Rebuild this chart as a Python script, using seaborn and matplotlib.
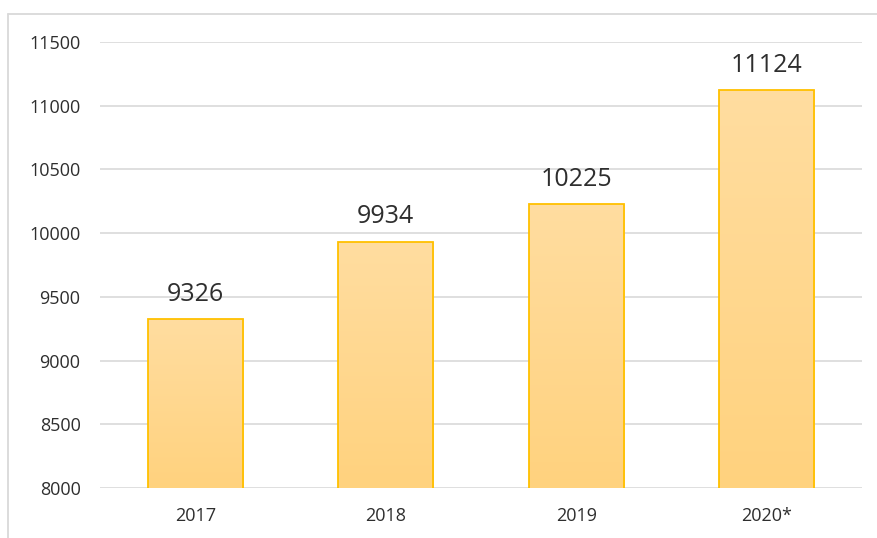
import numpy as np
import pandas as pd
import matplotlib
matplotlib.use("Agg")
import matplotlib.pyplot as plt
from matplotlib.colors import LinearSegmentedColormap
from matplotlib.lines import Line2D
import seaborn as sns

# Values per year
years = ["2017", "2018", "2019", "2020*"]
values = [9326, 9934, 10225, 11124]
y_ticks = [8000, 8500, 9000, 9500, 10000, 10500, 11000, 11500]

df = pd.DataFrame({"year": years, "value": values})

sns.set_theme(style="white")
plt.rcParams["font.family"] = ["Open Sans", "DejaVu Sans"]

text_color = "#2E2E2E"
grid_color = "#D9D9D9"
edge_color = "#FFC000"

fig = plt.figure(figsize=(8.77, 5.38), dpi=100)
ax = fig.add_axes([100 / 877, 50 / 538, 762 / 877, 446 / 538])

sns.barplot(data=df, x="year", y="value", ax=ax, width=0.5,
            color="#FFD990", edgecolor=edge_color, linewidth=1.3,
            saturation=1, zorder=3)

ax.set_ylim(8000, 11500)
ax.set_xlim(-0.5, 3.5)
ax.set_yticks(y_ticks)
ax.set_yticklabels([str(t) for t in y_ticks])

# Vertical gradient fill inside each bar
grad = LinearSegmentedColormap.from_list("bar_grad", ["#FFD27E", "#FFDDA0"])
gradient = np.linspace(0, 1, 256).reshape(-1, 1)
for patch in ax.patches:
    x0, y0 = patch.get_x(), patch.get_y()
    w, h = patch.get_width(), patch.get_height()
    im = ax.imshow(gradient, cmap=grad, origin="lower", aspect="auto",
                   extent=[x0, x0 + w, 8000, y0 + h], zorder=3.5)
    im.set_clip_path(patch)
    patch.set_facecolor("none")
    patch.set_zorder(4)

ax.set_xlim(-0.5, 3.5)
ax.set_ylim(8000, 11500)

# Value labels above bars
for i, v in enumerate(values):
    ax.annotate(str(v), xy=(i, v), xytext=(0, 13), textcoords="offset points",
                ha="center", va="baseline", fontsize=18, color=text_color,
                annotation_clip=False)

ax.grid(axis="y", color=grid_color, linewidth=1.2, zorder=0)
ax.grid(axis="x", visible=False)
for s in ax.spines.values():
    s.set_visible(False)

ax.set_xlabel("")
ax.set_ylabel("")
ax.tick_params(axis="y", length=0, pad=14, labelsize=13, labelcolor=text_color)
ax.tick_params(axis="x", length=0, pad=14, labelsize=13, labelcolor=text_color)

# Outer frame (top and left edges)
fig.add_artist(Line2D([8 / 877, 1], [1 - 14 / 538, 1 - 14 / 538],
                      transform=fig.transFigure, color=grid_color, linewidth=1.3))
fig.add_artist(Line2D([8 / 877, 8 / 877], [0, 1 - 14 / 538],
                      transform=fig.transFigure, color=grid_color, linewidth=1.3))

fig.savefig("out.png", dpi=100)
